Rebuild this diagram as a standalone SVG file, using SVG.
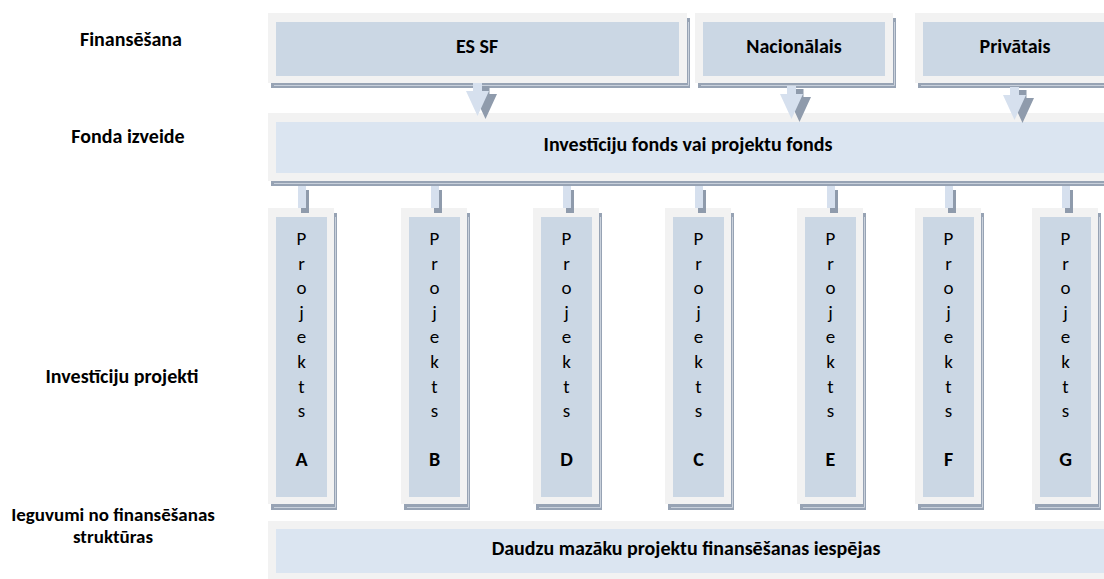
<svg xmlns="http://www.w3.org/2000/svg" width="1104" height="579" viewBox="0 0 1104 579">
<style>
.t{font-family:Carlito,Lato,"Liberation Sans",sans-serif;font-size:19px;fill:#000;text-anchor:middle}
.b{font-weight:bold;font-size:20px}
.frame{fill:#f2f2f2}
.fillA{fill:#cbd7e4}
.fillB{fill:#dbe5f1}
.sh{fill:#97a3b4}
.shl{fill:none;stroke:#c9d1dc;stroke-width:1}
.arL{fill:#d6e0ee}
.arD{fill:#8f9bac}
</style>
<rect width="1104" height="579" fill="#fff"/>
<g id="labels">
<text class="t b" x="131" y="46">Finansēšana</text>
<text class="t b" x="128" y="143">Fonda izveide</text>
<text class="t b" x="122" y="383">Investīciju projekti</text>
<text class="t b" x="113" y="521" style="font-size:19px">Ieguvumi no finansēšanas</text>
<text class="t b" x="113" y="543" style="font-size:19px">struktūras</text>
</g>
<g id="es-sf">
<rect class="sh" x="271" y="18" width="419" height="70"/>
<polyline class="shl" points="274,85.5 688.5,85.5 688.5,22"/>
<rect class="frame" x="268" y="13" width="419" height="70"/>
<rect class="fillA" x="276" y="22" width="403" height="54"/>
<text class="t b" x="477" y="53">ES SF</text>
</g>
<g id="nacionalais">
<rect class="sh" x="698" y="18" width="198" height="70"/>
<polyline class="shl" points="701,85.5 894.5,85.5 894.5,22"/>
<rect class="frame" x="695" y="13" width="198" height="70"/>
<rect class="fillA" x="703" y="22" width="182" height="54"/>
<text class="t b" x="794" y="53">Nacionālais</text>
</g>
<g id="privatais">
<rect class="sh" x="918" y="18" width="200" height="70"/>
<polyline class="shl" points="921,85.5 1116.5,85.5"/>
<rect class="frame" x="915" y="13" width="200" height="70"/>
<rect class="fillA" x="923" y="22" width="184" height="54"/>
<text class="t b" x="1015" y="53">Privātais</text>
</g>
<g id="fonds">
<rect class="sh" x="271" y="118" width="845" height="68"/>
<polyline class="shl" points="274,183.5 1116,183.5"/>
<rect class="frame" x="268" y="113" width="845" height="68"/>
<rect class="fillB" x="276" y="122" width="829" height="51"/>
<text class="t b" x="688" y="151">Investīciju fonds vai projektu fonds</text>
</g>
<g id="projekts-a" transform="translate(268,0)">
<rect class="sh" x="3" y="213" width="66" height="297"/>
<polyline class="shl" points="6,507.5 67.5,507.5 67.5,217"/>
<rect class="frame" x="0" y="208" width="66" height="296"/>
<rect class="fillA" x="8" y="217" width="51" height="280"/>
<text class="t" x="33.5" y="245">P</text><text class="t" x="33.5" y="269.6">r</text><text class="t" x="33.5" y="294.2">o</text><text class="t" x="33.5" y="318.8">j</text><text class="t" x="33.5" y="343.4">e</text><text class="t" x="33.5" y="368">k</text><text class="t" x="33.5" y="392.6">t</text><text class="t" x="33.5" y="417.2">s</text>
<text class="t b" x="33.5" y="466">A</text>
</g>
<g id="projekts-b" transform="translate(401,0)">
<rect class="sh" x="3" y="213" width="66" height="297"/>
<polyline class="shl" points="6,507.5 67.5,507.5 67.5,217"/>
<rect class="frame" x="0" y="208" width="66" height="296"/>
<rect class="fillA" x="8" y="217" width="51" height="280"/>
<text class="t" x="33.5" y="245">P</text><text class="t" x="33.5" y="269.6">r</text><text class="t" x="33.5" y="294.2">o</text><text class="t" x="33.5" y="318.8">j</text><text class="t" x="33.5" y="343.4">e</text><text class="t" x="33.5" y="368">k</text><text class="t" x="33.5" y="392.6">t</text><text class="t" x="33.5" y="417.2">s</text>
<text class="t b" x="33.5" y="466">B</text>
</g>
<g id="projekts-d" transform="translate(533,0)">
<rect class="sh" x="3" y="213" width="66" height="297"/>
<polyline class="shl" points="6,507.5 67.5,507.5 67.5,217"/>
<rect class="frame" x="0" y="208" width="66" height="296"/>
<rect class="fillA" x="8" y="217" width="51" height="280"/>
<text class="t" x="33.5" y="245">P</text><text class="t" x="33.5" y="269.6">r</text><text class="t" x="33.5" y="294.2">o</text><text class="t" x="33.5" y="318.8">j</text><text class="t" x="33.5" y="343.4">e</text><text class="t" x="33.5" y="368">k</text><text class="t" x="33.5" y="392.6">t</text><text class="t" x="33.5" y="417.2">s</text>
<text class="t b" x="33.5" y="466">D</text>
</g>
<g id="projekts-c" transform="translate(665,0)">
<rect class="sh" x="3" y="213" width="66" height="297"/>
<polyline class="shl" points="6,507.5 67.5,507.5 67.5,217"/>
<rect class="frame" x="0" y="208" width="66" height="296"/>
<rect class="fillA" x="8" y="217" width="51" height="280"/>
<text class="t" x="33.5" y="245">P</text><text class="t" x="33.5" y="269.6">r</text><text class="t" x="33.5" y="294.2">o</text><text class="t" x="33.5" y="318.8">j</text><text class="t" x="33.5" y="343.4">e</text><text class="t" x="33.5" y="368">k</text><text class="t" x="33.5" y="392.6">t</text><text class="t" x="33.5" y="417.2">s</text>
<text class="t b" x="33.5" y="466">C</text>
</g>
<g id="projekts-e" transform="translate(797,0)">
<rect class="sh" x="3" y="213" width="66" height="297"/>
<polyline class="shl" points="6,507.5 67.5,507.5 67.5,217"/>
<rect class="frame" x="0" y="208" width="66" height="296"/>
<rect class="fillA" x="8" y="217" width="51" height="280"/>
<text class="t" x="33.5" y="245">P</text><text class="t" x="33.5" y="269.6">r</text><text class="t" x="33.5" y="294.2">o</text><text class="t" x="33.5" y="318.8">j</text><text class="t" x="33.5" y="343.4">e</text><text class="t" x="33.5" y="368">k</text><text class="t" x="33.5" y="392.6">t</text><text class="t" x="33.5" y="417.2">s</text>
<text class="t b" x="33.5" y="466">E</text>
</g>
<g id="projekts-f" transform="translate(915,0)">
<rect class="sh" x="3" y="213" width="66" height="297"/>
<polyline class="shl" points="6,507.5 67.5,507.5 67.5,217"/>
<rect class="frame" x="0" y="208" width="66" height="296"/>
<rect class="fillA" x="8" y="217" width="51" height="280"/>
<text class="t" x="33.5" y="245">P</text><text class="t" x="33.5" y="269.6">r</text><text class="t" x="33.5" y="294.2">o</text><text class="t" x="33.5" y="318.8">j</text><text class="t" x="33.5" y="343.4">e</text><text class="t" x="33.5" y="368">k</text><text class="t" x="33.5" y="392.6">t</text><text class="t" x="33.5" y="417.2">s</text>
<text class="t b" x="33.5" y="466">F</text>
</g>
<g id="projekts-g" transform="translate(1032,0)">
<rect class="sh" x="3" y="213" width="66" height="297"/>
<polyline class="shl" points="6,507.5 67.5,507.5 67.5,217"/>
<rect class="frame" x="0" y="208" width="66" height="296"/>
<rect class="fillA" x="8" y="217" width="51" height="280"/>
<text class="t" x="33.5" y="245">P</text><text class="t" x="33.5" y="269.6">r</text><text class="t" x="33.5" y="294.2">o</text><text class="t" x="33.5" y="318.8">j</text><text class="t" x="33.5" y="343.4">e</text><text class="t" x="33.5" y="368">k</text><text class="t" x="33.5" y="392.6">t</text><text class="t" x="33.5" y="417.2">s</text>
<text class="t b" x="33.5" y="466">G</text>
</g>
<g id="ieguvumi">
<rect class="frame" x="268" y="521" width="850" height="70"/>
<rect class="fillB" x="276" y="529" width="834" height="44"/>
<text class="t b" x="686" y="555">Daudzu mazāku projektu finansēšanas iespējas</text>
</g>
<g id="connectors">
<g id="arrows">
<path class="arD" d="M480.5,86h9v8h7.5l-11.5,25l-11.5,-25h6.5z"/>
<path class="arL" d="M473,83h9v8h7l-11.5,25l-11.5,-25h7z"/>
<path class="arD" d="M794.5,89h9v8h7.5l-11.5,25l-11.5,-25h6.5z"/>
<path class="arL" d="M787,86h9v8h7l-11.5,25l-11.5,-25h7z"/>
<path class="arD" d="M1017.5,90h9v8h7.5l-11.5,25l-11.5,-25h6.5z"/>
<path class="arL" d="M1010,87h9v8h7l-11.5,25l-11.5,-25h7z"/>
</g>
<g id="links">
<rect class="arD" x="301" y="190" width="8" height="23"/><rect class="arL" x="298" y="186" width="8" height="22"/>
<rect class="arD" x="434" y="190" width="8" height="23"/><rect class="arL" x="431" y="186" width="8" height="22"/>
<rect class="arD" x="566" y="190" width="8" height="23"/><rect class="arL" x="563" y="186" width="8" height="22"/>
<rect class="arD" x="698" y="190" width="8" height="23"/><rect class="arL" x="695" y="186" width="8" height="22"/>
<rect class="arD" x="830" y="190" width="8" height="23"/><rect class="arL" x="827" y="186" width="8" height="22"/>
<rect class="arD" x="948" y="190" width="8" height="23"/><rect class="arL" x="945" y="186" width="8" height="22"/>
<rect class="arD" x="1065" y="190" width="8" height="23"/><rect class="arL" x="1062" y="186" width="8" height="22"/>
</g>
</g>
</svg>
